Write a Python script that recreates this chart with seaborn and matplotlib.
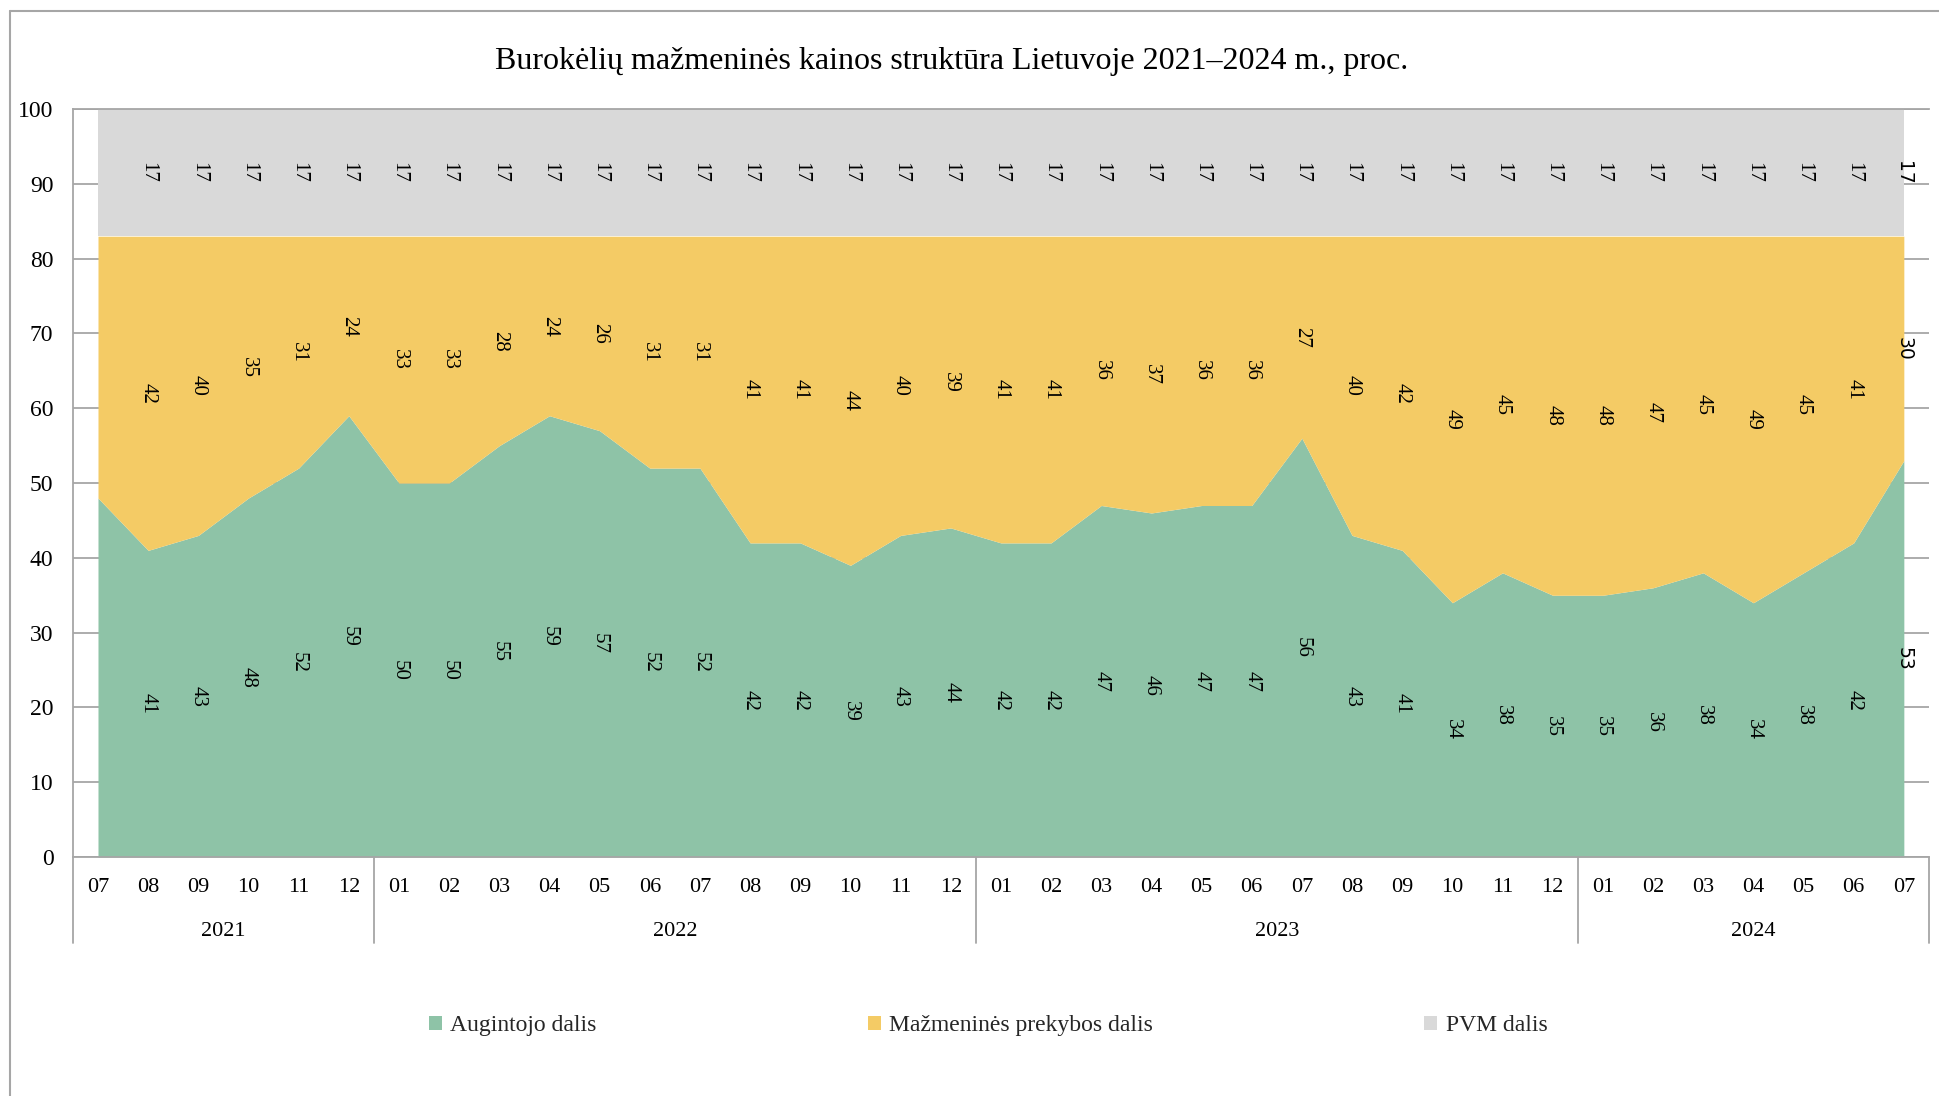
import numpy as np
import pandas as pd
import matplotlib
matplotlib.use("Agg")
import matplotlib.pyplot as plt
import seaborn as sns
from matplotlib.lines import Line2D
from matplotlib.patches import Patch
from matplotlib.transforms import blended_transform_factory

# ---------------- data ----------------
months = ["07", "08", "09", "10", "11", "12",
          "01", "02", "03", "04", "05", "06", "07", "08", "09", "10", "11", "12",
          "01", "02", "03", "04", "05", "06", "07", "08", "09", "10", "11", "12",
          "01", "02", "03", "04", "05", "06", "07"]
years = ["2021", "2022", "2023", "2024"]
year_counts = [6, 12, 12, 7]

grower = [48, 41, 43, 48, 52, 59,
          50, 50, 55, 59, 57, 52, 52, 42, 42, 39, 43, 44,
          42, 42, 47, 46, 47, 47, 56, 43, 41, 34, 38, 35,
          35, 36, 38, 34, 38, 42, 53]
retail = [35, 42, 40, 35, 31, 24,
          33, 33, 28, 24, 26, 31, 31, 41, 41, 44, 40, 39,
          41, 41, 36, 37, 36, 36, 27, 40, 42, 49, 45, 48,
          48, 47, 45, 49, 45, 41, 30]
vat = [17, 17, 17, 17, 17, 17,
       17, 17, 17, 17, 17, 17, 17, 17, 17, 17, 17, 17,
       17, 17, 17, 17, 17, 17, 17, 17, 17, 17, 17, 17,
       17, 17, 17, 17, 17, 17, 17]

series_names = ["Augintojo dalis", "Mažmeninės prekybos dalis", "PVM dalis"]
colors = ["#8EC3A7", "#F4CB65", "#D9D9D9"]
title = "Burokėlių mažmeninės kainos struktūra Lietuvoje 2021–2024 m., proc."

df = pd.DataFrame({"x": np.arange(len(months)), "month": months,
                   "grower": grower, "retail": retail, "vat": vat})

# ---------------- style ----------------
sns.set_theme(style="white")
plt.rcParams["font.family"] = ["Liberation Serif", "DejaVu Serif"]
grid_c = "#A6A6A6"

fig = plt.figure(figsize=(19.39, 10.96), dpi=100)
ax = fig.add_axes([0.0376, 0.218, 0.9572, 0.6825])

ax.stackplot(df["x"], df["grower"], df["retail"], df["vat"],
             colors=colors, linewidth=0, zorder=2)

ax.set_xlim(-0.5, len(months) - 0.5)
ax.set_ylim(0, 100)
ax.set_yticks(range(0, 101, 10))
ax.yaxis.grid(True, color=grid_c, lw=1.3, zorder=0)
ax.xaxis.grid(False)
ax.set_axisbelow(True)

ax.spines["right"].set_visible(False)
for s in ["left", "bottom", "top"]:
    ax.spines[s].set_color(grid_c)
    ax.spines[s].set_linewidth(1.3)

ax.set_xticks(df["x"])
ax.set_xticklabels(months)
ax.tick_params(axis="x", length=0, pad=15, labelsize=16, colors="black")
ax.tick_params(axis="y", length=0, pad=14, labelsize=17, colors="black")

# data labels (first point has none)
n = len(months)
for i in range(1, n):
    fam = ["DejaVu Sans"] if i == n - 1 else ["Liberation Serif"]
    fs = 13.5 if i == n - 1 else 15
    g, r, v = grower[i], retail[i], vat[i]
    for yv, val in [(g / 2, g), (g + r / 2, r), (g + r + v / 2, v)]:
        ax.text(i, yv, str(val), rotation=-90, ha="center", va="center",
                fontsize=fs, family=fam, color="black", zorder=5)

# year grouping axis
trans = blended_transform_factory(ax.transData, ax.transAxes)
bounds = np.concatenate([[0], np.cumsum(year_counts)]) - 0.5
for b in bounds:
    ax.plot([b, b], [0, -0.115], transform=trans, color=grid_c, lw=1.3,
            clip_on=False, zorder=3)
for k, yr in enumerate(years):
    xc = (bounds[k] + bounds[k + 1]) / 2
    ax.text(xc, -0.099, yr, transform=trans, ha="center", va="center",
            fontsize=16, color="black")

# title
fig.text(0.491, 0.944, title, ha="center", va="center", fontsize=23, color="black")

# legend
handles = [Patch(facecolor=c, edgecolor="none") for c in colors]
fig.legend(handles, series_names, loc="center", bbox_to_anchor=(0.5095, 0.064),
           ncol=3, frameon=False, fontsize=17, handlelength=0.55,
           handleheight=0.55, columnspacing=11.5, handletextpad=0.35)

# figure border (top and left)
fig.add_artist(Line2D([0.0052, 1.0], [0.99, 0.99], transform=fig.transFigure,
                      color=grid_c, lw=1.5))
fig.add_artist(Line2D([0.0052, 0.0052], [0.0, 0.99], transform=fig.transFigure,
                      color=grid_c, lw=1.5))

fig.savefig("out.png", dpi=100)
